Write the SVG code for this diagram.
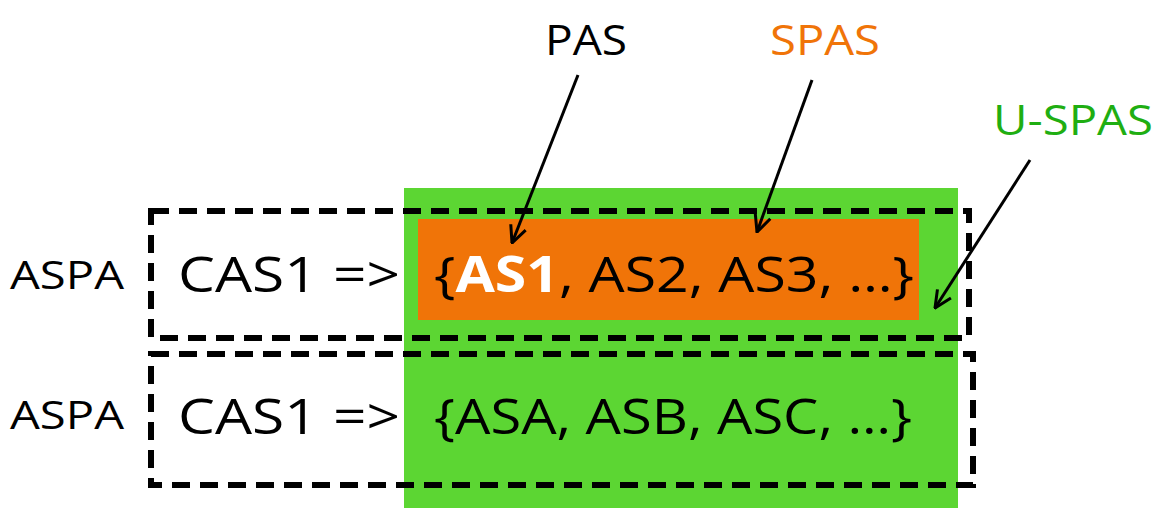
<svg xmlns="http://www.w3.org/2000/svg" width="1166" height="512" viewBox="0 0 1166 512">
<style>
text{font-family:"Open Sans","Liberation Sans",sans-serif;fill:#000}
.dash{fill:none;stroke:#000;stroke-width:6;stroke-dasharray:18 10}
.arr{stroke:#000;stroke-width:3;fill:none;marker-end:url(#ah)}
</style>
<defs><marker id="ah" viewBox="0 0 12 12" refX="11" refY="6" markerWidth="6" markerHeight="6" orient="auto" markerUnits="userSpaceOnUse"><path d="M0,0 L12,6 L0,12" fill="none" stroke="#000" stroke-width="0"/></marker>
<marker id="ah2" viewBox="0 0 20 20" refX="19" refY="10" markerWidth="20" markerHeight="20" orient="auto" markerUnits="userSpaceOnUse"><path d="M2,2 L19,10 L2,18" fill="none" stroke="#000" stroke-width="3"/></marker></defs>
<g id="uspas-area"><rect x="404" y="188" width="554" height="320" fill="#5cd633"/></g>
<g id="spas-area"><rect x="418" y="219" width="501" height="101" fill="#f07408"/></g>
<g id="row1">
<rect class="dash" x="151" y="211" width="818" height="127"/>
<text x="10" y="289" font-size="38" textLength="114" lengthAdjust="spacingAndGlyphs">ASPA</text>
<text x="178" y="292" font-size="50" textLength="222" lengthAdjust="spacingAndGlyphs">CAS1  =&gt;</text>
<text x="434" y="292" font-size="50" textLength="480" lengthAdjust="spacingAndGlyphs">{<tspan fill="#fff" font-weight="bold">AS1</tspan>, AS2, AS3, …}</text>
</g>
<g id="row2">
<rect class="dash" x="151" y="354" width="822" height="131"/>
<text x="10" y="429" font-size="38" textLength="114" lengthAdjust="spacingAndGlyphs">ASPA</text>
<text x="178" y="434" font-size="50" textLength="222" lengthAdjust="spacingAndGlyphs">CAS1  =&gt;</text>
<text x="434" y="434" font-size="50" textLength="478" lengthAdjust="spacingAndGlyphs">{ASA, ASB, ASC, …}</text>
</g>
<g id="labels">
<text x="545" y="55" font-size="42" textLength="82" lengthAdjust="spacingAndGlyphs">PAS</text>
<text x="770" y="55" font-size="42" fill="#f07408" style="fill:#f07408" textLength="110" lengthAdjust="spacingAndGlyphs">SPAS</text>
<text x="993" y="135" font-size="42" style="fill:#1fae12" textLength="160" lengthAdjust="spacingAndGlyphs">U-SPAS</text>
</g>
<g id="connectors" stroke="#000" stroke-width="3" fill="none">
<line x1="578" y1="75" x2="512" y2="243" marker-end="url(#ah2)"/>
<line x1="812" y1="80" x2="757" y2="232" marker-end="url(#ah2)"/>
<line x1="1030" y1="160" x2="935" y2="308" marker-end="url(#ah2)"/>
</g>
</svg>
